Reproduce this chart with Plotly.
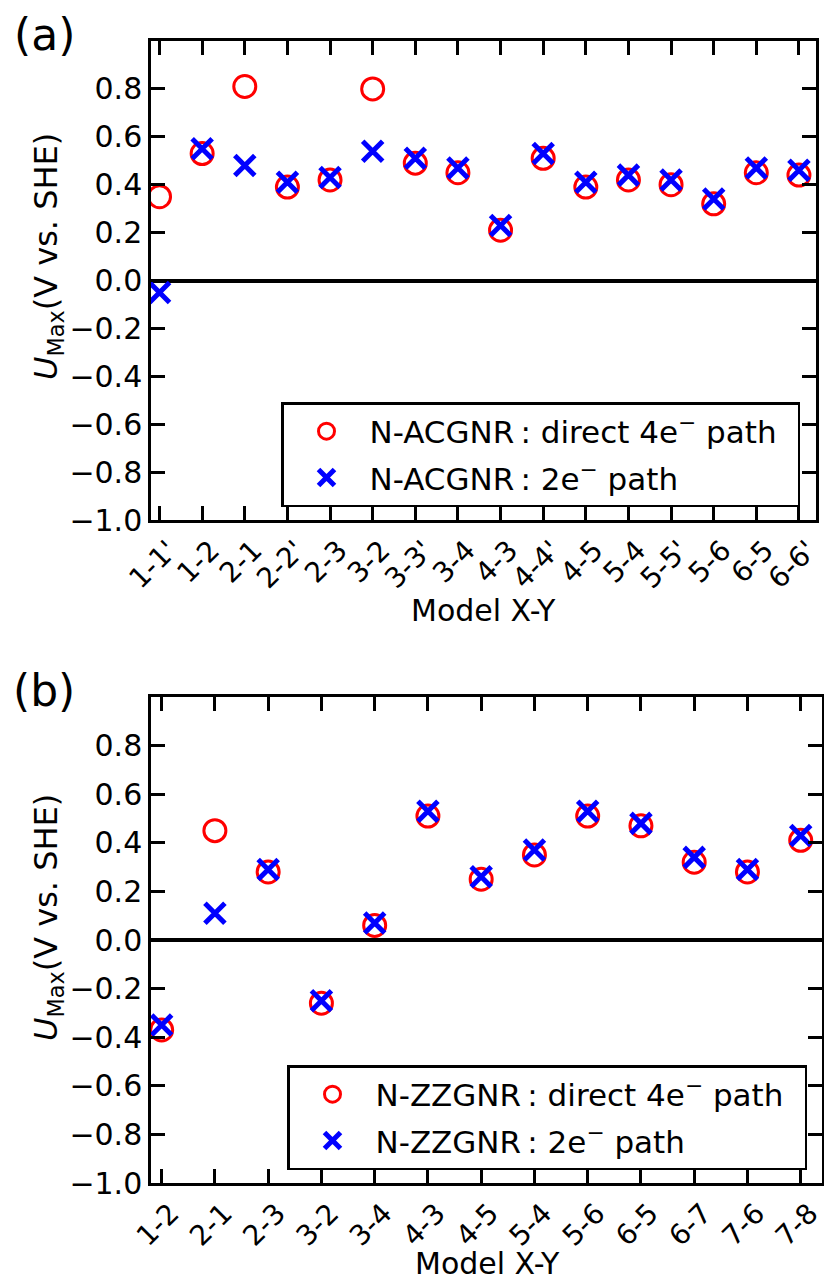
import plotly.graph_objects as go

# ---------------- data ----------------
cats_a = ["1-1'", "1-2", "2-1", "2-2'", "2-3", "3-2", "3-3'", "3-4",
          "4-3", "4-4'", "4-5", "5-4", "5-5'", "5-6", "6-5", "6-6'"]
direct_a = [0.35, 0.53, 0.81, 0.39, 0.42, 0.80, 0.49, 0.45,
            0.21, 0.51, 0.39, 0.42, 0.40, 0.32, 0.45, 0.44]
two_a = [-0.05, 0.55, 0.48, 0.41, 0.43, 0.54, 0.51, 0.47,
         0.23, 0.53, 0.41, 0.44, 0.42, 0.34, 0.47, 0.46]

cats_b = ["1-2", "2-1", "2-3", "3-2", "3-4", "4-3", "4-5",
          "5-4", "5-6", "6-5", "6-7", "7-6", "7-8"]
direct_b = [-0.37, 0.45, 0.28, -0.26, 0.06, 0.51, 0.25,
            0.35, 0.51, 0.47, 0.32, 0.28, 0.41]
two_b = [-0.35, 0.11, 0.29, -0.25, 0.07, 0.53, 0.26,
         0.37, 0.53, 0.48, 0.34, 0.29, 0.43]

y_ticks = [-1.0, -0.8, -0.6, -0.4, -0.2, 0.0, 0.2, 0.4, 0.6, 0.8]
y_ticktext = [("\u2212" if v < 0 else "") + f"{abs(v):.1f}" for v in y_ticks]

FONT = "DejaVu Sans"
FS = 30
W, H = 824, 1281

fig = go.Figure()

circ = dict(symbol="circle-open", size=22, color="red", line=dict(color="red", width=3))
cross = dict(symbol="x-thin-open", size=20, color="blue", line=dict(color="blue", width=5))

PAD = "\u2002"
fig.add_trace(go.Scatter(x=cats_a, y=direct_a, mode="markers", marker=circ,
                         name="N-ACGNR\u2009: direct 4e<sup>\u2212</sup> path" + PAD,
                         legendgroup="a1", xaxis="x", yaxis="y", legend="legend"))
fig.add_trace(go.Scatter(x=cats_a, y=two_a, mode="markers", marker=cross,
                         name="N-ACGNR\u2009: 2e<sup>\u2212</sup> path",
                         legendgroup="a2", xaxis="x", yaxis="y", legend="legend"))
fig.add_trace(go.Scatter(x=cats_b, y=direct_b, mode="markers", marker=circ,
                         name="N-ZZGNR\u2009: direct 4e<sup>\u2212</sup> path" + PAD,
                         legendgroup="b1", xaxis="x2", yaxis="y2", legend="legend2"))
fig.add_trace(go.Scatter(x=cats_b, y=two_b, mode="markers", marker=cross,
                         name="N-ZZGNR\u2009: 2e<sup>\u2212</sup> path",
                         legendgroup="b2", xaxis="x2", yaxis="y2", legend="legend2"))

axis_common = dict(showline=True, linecolor="black", linewidth=2.5, mirror="ticks",
                   ticks="inside", ticklen=14, tickwidth=2.5, tickcolor="black",
                   showgrid=False, automargin=False,
                   tickfont=dict(family=FONT, size=FS, color="black"))

xa = dict(axis_common, type="category", tickangle=-45, ticklabelshift=9,
          zeroline=False, tickfont=dict(family=FONT, size=28, color="black"))
ya = dict(axis_common, range=[-1.0, 1.0], tickvals=y_ticks, ticktext=y_ticktext,
          zeroline=True, zerolinecolor="black", zerolinewidth=4)


def px_x(p):
    return p / W


def px_y(p):
    return 1 - p / H


legend_common = dict(bgcolor="white", bordercolor="black", borderwidth=2.5,
                     font=dict(family=FONT, size=31, color="black"),
                     tracegroupgap=3, itemwidth=76, xanchor="right", yanchor="top")

fig.update_layout(
    width=W, height=H,
    margin=dict(l=0, r=0, t=0, b=0, autoexpand=False),
    paper_bgcolor="white", plot_bgcolor="white",
    font=dict(family=FONT, color="black"),
    xaxis=dict(xa, domain=[px_x(151), px_x(816)], range=[-0.2, 15.4], anchor="y"),
    yaxis=dict(ya, domain=[px_y(520), px_y(41)], anchor="x"),
    xaxis2=dict(xa, domain=[px_x(151), px_x(822)], range=[-0.2, 12.4], anchor="y2"),
    yaxis2=dict(ya, domain=[px_y(1183), px_y(697)], anchor="x2"),
    legend=dict(legend_common, x=px_x(800), y=px_y(402)),
    legend2=dict(legend_common, x=px_x(807), y=px_y(1065)),
    showlegend=True,
)


def note(text, x, y, size, angle=0):
    return dict(text=text, x=px_x(x), y=px_y(y), xref="paper", yref="paper",
                xanchor="center", yanchor="middle", textangle=angle,
                showarrow=False, font=dict(family=FONT, size=size, color="black"))


annotations = [
    note("(a)", 44, 34, 44),
    note("(b)", 44, 690, 44),
    note("Model X-Y", 484, 610, FS),
    note("Model X-Y", 487, 1263, FS),
    note("<i>U</i><sub>Max</sub>(V vs. SHE)", 48, 257, 32, -90),
    note("<i>U</i><sub>Max</sub>(V vs. SHE)", 48, 918, 32, -90),
]
fig.update_layout(annotations=annotations)

fig.write_html("out.html")
